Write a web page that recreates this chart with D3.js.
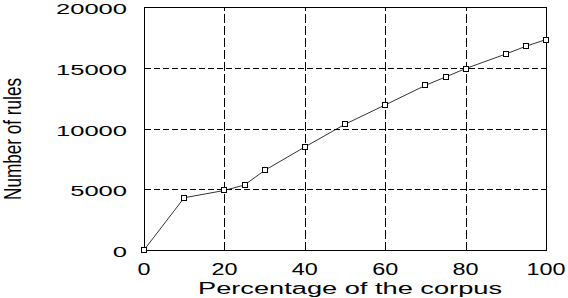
<!DOCTYPE html>
<html><head><meta charset="utf-8">
<script src="https://cdn.jsdelivr.net/npm/d3@7"></script>
<style>body{margin:0;background:#fff}svg{display:block}text{font-family:"Liberation Sans",Arial,sans-serif;fill:#000}</style>
</head><body>
<script>
const percentages = [0, 10, 20, 25, 30, 40, 50, 60, 70, 75, 80, 90, 95, 100];
const ruleCounts = [0, 4300, 4900, 5350, 6550, 8480, 10350, 11940, 13550, 14240, 14930, 16130, 16770, 17320];
const xTicks = [0, 20, 40, 60, 80, 100];
const yTicks = [0, 5000, 10000, 15000, 20000];
const xTitle = "Percentage of the corpus";
const yTitle = "Number of rules";

const W = 568, H = 298;
const svg = d3.select("body").append("svg").attr("width", W).attr("height", H);
const x = d3.scaleLinear().domain([0, 100]).range([144, 546]);
const y = d3.scaleLinear().domain([0, 20000]).range([250, 7]);
const cx = v => Math.round(x(v)) + 0.5;
const cy = v => Math.round(y(v)) + 0.5;

// grid
svg.append("g").selectAll("line").data(yTicks.filter(v => v > 0 && v < 20000)).join("line")
  .attr("x1", cx(0)).attr("x2", cx(100)).attr("y1", d => cy(d)).attr("y2", d => cy(d))
  .attr("stroke", "#000").attr("stroke-width", 1).attr("stroke-dasharray", "6,3")
  .attr("shape-rendering", "crispEdges");
svg.append("g").selectAll("line").data(xTicks.filter(v => v > 0 && v < 100)).join("line")
  .attr("y1", cy(0)).attr("y2", cy(20000)).attr("x1", d => cx(d)).attr("x2", d => cx(d))
  .attr("stroke", "#000").attr("stroke-width", 1).attr("stroke-dasharray", "9,3")
  .attr("shape-rendering", "crispEdges");

// frame
svg.append("rect").attr("x", cx(0)).attr("y", cy(20000)).attr("width", cx(100) - cx(0)).attr("height", cy(0) - cy(20000))
  .attr("fill", "none").attr("stroke", "#000").attr("stroke-width", 1).attr("shape-rendering", "crispEdges");

// axes labels
const charW = 14.2;
svg.append("g").selectAll("text").data(yTicks).join("text")
  .attr("x", x(0) - 17).attr("y", d => y(d) + 7)
  .attr("text-anchor", "end").attr("font-size", 15.5)
  .attr("textLength", d => String(d).length * charW).attr("lengthAdjust", "spacingAndGlyphs")
  .text(d => d);
svg.append("g").selectAll("text").data(xTicks).join("text")
  .attr("x", d => x(d)).attr("y", 275)
  .attr("text-anchor", "middle").attr("font-size", 16)
  .attr("textLength", d => String(d).length * 13).attr("lengthAdjust", "spacingAndGlyphs")
  .text(d => d);

svg.append("text").attr("x", 198).attr("y", 294).attr("font-size", 16)
  .attr("textLength", 304).attr("lengthAdjust", "spacingAndGlyphs").text(xTitle);
svg.append("text").attr("transform", `translate(21,139) rotate(-90)`).attr("text-anchor", "middle")
  .attr("font-size", 23).attr("textLength", 122).attr("lengthAdjust", "spacingAndGlyphs").text(yTitle);

// line
const pts = percentages.map((p, i) => [p, ruleCounts[i]]);
svg.append("path").datum(pts)
  .attr("d", d3.line().x(d => x(d[0])).y(d => y(d[1])))
  .attr("fill", "none").attr("stroke", "#000").attr("stroke-width", 0.8);
svg.append("g").selectAll("rect").data(pts).join("rect")
  .attr("x", d => Math.round(x(d[0])) - 2.5).attr("y", d => Math.round(y(d[1])) - 2.5)
  .attr("width", 5).attr("height", 5)
  .attr("fill", "#fff").attr("stroke", "#000").attr("stroke-width", 1)
  .attr("shape-rendering", "crispEdges");
</script>
</body></html>
